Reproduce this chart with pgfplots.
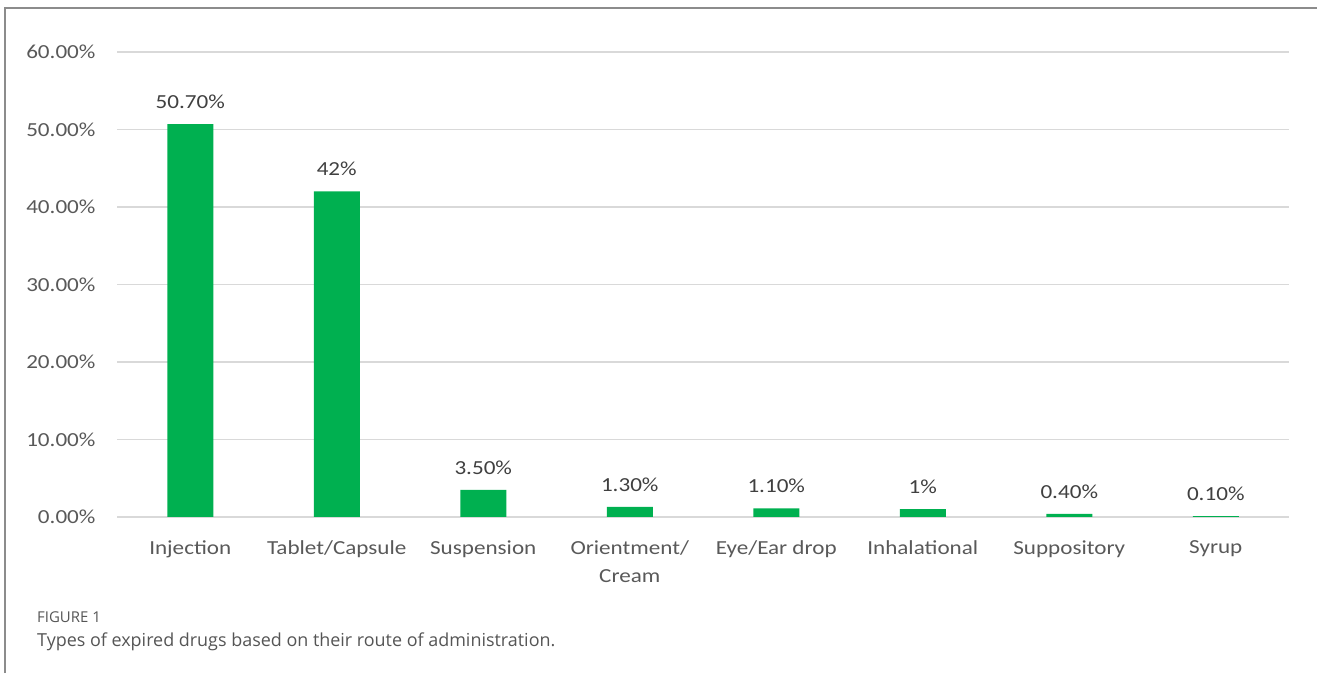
\documentclass[border=0pt]{standalone}
\usepackage{fontspec}
\setmainfont{Carlito}[FakeStretch=1.16]
\newfontfamily\capfont{Open Sans}
\usepackage{pgfplots}
\pgfplotsset{compat=1.18}
\definecolor{barg}{HTML}{00B050}
\definecolor{tickc}{HTML}{595959}
\definecolor{valc}{HTML}{404040}
\definecolor{gridc}{HTML}{D9D9D9}
\definecolor{framec}{HTML}{8C8C8C}
\definecolor{capc}{HTML}{555555}
\begin{document}
\begin{tikzpicture}[x=1bp,y=1bp]
\useasboundingbox (0,0) rectangle (1317,673);
\draw[color=framec, line width=1.5bp] (5,0) -- (5,665) -- (1317,665);
\begin{axis}[at={(117bp,156bp)}, anchor=south west, scale only axis,
  width=1172bp, height=465bp,
  xmin=-0.5, xmax=7.5, ymin=0, ymax=60,
  ybar, bar width=46bp,
  axis line style={draw=none},
  major tick length=0pt,
  ytick={0,10,20,30,40,50,60},
  yticklabels={0.00\%,10.00\%,20.00\%,30.00\%,40.00\%,50.00\%,60.00\%},
  yticklabel style={font=\fontsize{20}{24}\selectfont, text=tickc, xshift=-18bp},
  xtick={0,1,2,3,4,5,6,7},
  xticklabels={Injection,Tablet/Capsule,Suspension,{Orientment/\\Cream},Eye/Ear drop,Inhalational,Suppository,Syrup},
  xticklabel style={align=center, font=\fontsize{20}{28}\selectfont, text=tickc, yshift=-20bp},
  ymajorgrids, grid style={color=gridc, line width=1.6bp},
  nodes near coords, point meta=explicit symbolic,
  nodes near coords style={font=\fontsize{20}{24}\selectfont, text=valc, anchor=south, yshift=12bp},
  clip=false,
]
\addplot[fill=barg, draw=none] coordinates {
  (0,50.7) [50.70\%]
  (1,42) [42\%]
  (2,3.5) [3.50\%]
  (3,1.3) [1.30\%]
  (4,1.1) [1.10\%]
  (5,1.0) [1\%]
  (6,0.4) [0.40\%]
  (7,0.1) [0.10\%]
};
\end{axis}
\node[anchor=base west, text=capc, inner sep=0pt] at (37,50) {\capfont\fontsize{15}{18}\selectfont FIGURE 1};
\node[anchor=base west, text=capc, inner sep=0pt] at (37,26) {\capfont\fontsize{18}{21}\selectfont Types of expired drugs based on their route of administration.};
\end{tikzpicture}
\end{document}
